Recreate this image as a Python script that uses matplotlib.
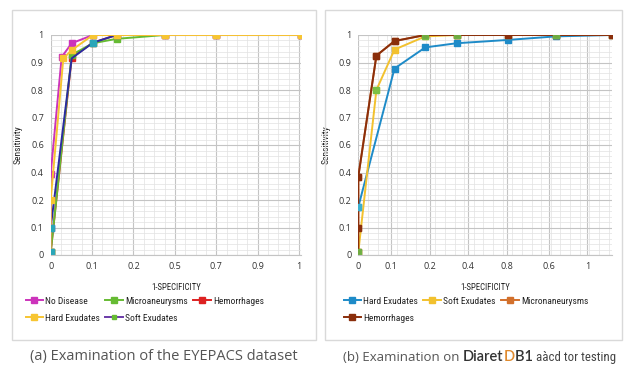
import numpy as np
import matplotlib
matplotlib.use('Agg')
import matplotlib.pyplot as plt
from matplotlib.ticker import FixedLocator, MultipleLocator
from matplotlib.patches import Rectangle

plt.rcParams['font.family'] = ['Open Sans', 'DejaVu Sans']
narrow = ['Roboto Condensed', 'DejaVu Sans']

# y axis labels as printed (evenly spaced in the picture)
y_labels = [0, 0.1, 0.2, 0.4, 0.6, 0.7, 0.8, 0.9, 1]
y_label_text = ['0', '0.1', '0.2', '0.4', '0.6', '0.7', '0.8', '0.9', '1']

# x axes are in tick-slot units, labels as printed
xa_ticks = [0, 1, 2, 3, 4, 5, 6]
xa_text = ['0', '0.1', '0.2', '0.5', '0.7', '0.9', '1']
xb_ticks = [0, 0.86, 1.85, 2.85, 3.85, 4.95, 5.95]
xb_text = ['0', '0.1', '0.2', '0.4', '0.8', '0.6', '1']

# (a) EYEPACS
hem_x = [0, 0.507, 1.02, 1.59, 2.75, 4.0, 6.04]
hem_y = [0.01, 0.918, 0.972, 1, 1, 1, 1]
micro_x = [0, 0.507, 1.02, 1.59, 2.75, 4.0, 6.04]
micro_y = [0.01, 0.928, 0.97, 0.986, 1, 1, 1]
soft_x = [0, 0, 0.507, 1.02, 1.59, 2.75, 4.0, 6.04]
soft_y = [0.01, 0.1, 0.915, 0.972, 1, 1, 1, 1]
nodis_x = [0, 0, 0.265, 0.507, 1.02, 1.59, 2.75, 4.0, 6.04]
nodis_y = [0.1, 0.39, 0.92, 0.97, 1, 1, 1, 1, 1]
hard_x = [0, 0, 0.305, 0.507, 1.02, 1.59, 2.75, 4.0, 6.04]
hard_y = [0.01, 0.2, 0.915, 0.945, 1, 1, 1, 1, 1]

# (b) DiaretDB1
b_hard_x = [0, 0.94, 1.74, 2.55, 3.88, 5.13, 6.58]
b_hard_y = [0.175, 0.878, 0.955, 0.97, 0.982, 0.995, 1.0]
b_soft_x = [0, 0.47, 0.94, 1.74, 2.55, 3.88, 5.13, 6.58]
b_soft_y = [0.01, 0.8, 0.947, 0.995, 1, 1, 1, 1]
b_green_x = [0, 0.47, 1.74, 2.55, 5.13]
b_green_y = [0.01, 0.8, 0.995, 1.0, 1.0]
b_micro_x = [0, 0, 0.47, 0.94, 1.74, 2.55, 3.88, 5.13, 6.58]
b_micro_y = [0.1, 0.37, 0.925, 0.978, 1, 1, 1, 1, 1]
b_hem_x = [0, 0, 0, 0.47, 0.94, 1.74, 2.55, 3.88, 5.13, 6.58]
b_hem_y = [0.01, 0.1, 0.37, 0.925, 0.978, 1, 1, 1, 1, 1]

yi = np.arange(len(y_labels))


def fwd(v):
    return np.interp(v, y_labels, yi)


def inv(p):
    return np.interp(p, yi, y_labels)


def setup(ax, xmax, ticks, text):
    ax.set_yscale('function', functions=(fwd, inv))
    ax.set_ylim(0, 1)
    ax.yaxis.set_major_locator(FixedLocator(y_labels))
    ax.yaxis.set_minor_locator(FixedLocator(inv(np.arange(0, 8.01, 0.2))))
    ax.set_yticklabels(y_label_text)
    ax.set_xlim(0, xmax)
    ax.set_xticks(ticks)
    ax.set_xticklabels(text)
    ax.xaxis.set_minor_locator(MultipleLocator(0.25))
    ax.grid(True, which='major', color='#c4c4c4', lw=0.8)
    ax.grid(True, which='minor', color='#e2e2e2', lw=0.5)
    ax.set_axisbelow(True)
    ax.tick_params(which='both', length=0, labelsize=6.5, colors='#333333', pad=5)
    for s in ax.spines.values():
        s.set_visible(False)
    ax.spines['bottom'].set_visible(True)
    ax.spines['bottom'].set_color('#c4c4c4')
    ax.set_xlabel('1-SPECIFICITY', fontsize=6.3, color='#222222', labelpad=9, family=narrow)
    ax.set_ylabel('Sensitivity', fontsize=6.8, color='#222222', labelpad=6, family=narrow)


fig = plt.figure(figsize=(6.32, 3.71), dpi=100)
for x0, x1 in [(12, 316), (325, 622)]:
    fig.patches.append(Rectangle((x0 / 632, 1 - 340 / 371), (x1 - x0) / 632, 330 / 371,
                                 transform=fig.transFigure, fill=False,
                                 edgecolor='#d9d9d9', lw=1))

ax1 = fig.add_axes([50.7 / 632, 1 - 255 / 371, 250 / 632, 220 / 371])
ax2 = fig.add_axes([358.3 / 632, 1 - 255 / 371, 253.4 / 632, 220 / 371])

kw = dict(marker='s', markersize=5, lw=1.4)
ax1.plot(hem_x, hem_y, color='#dd2222', label='Hemorrhages', **kw)
ax1.plot(micro_x, micro_y, color='#66bb33', label='Microaneurysms', **kw)
ax1.plot(soft_x, soft_y, color='#2b2ba0', label='Soft Exudates', marker='s', markersize=5,
         lw=1.4, markevery=[0, 1, 3], markerfacecolor='#2aa6b8', markeredgecolor='#2aa6b8')
ax1.plot(nodis_x, nodis_y, color='#cc33bb', label='No Disease', **kw)
ax1.plot(hard_x, hard_y, color='#f7c531', label='Hard Exudates', **kw)
ax1.plot(soft_x[:2], soft_y[:2], ls='none', marker='s', markersize=5, color='#2aa6b8')
setup(ax1, 6.04, xa_ticks, xa_text)

h, l = ax1.get_legend_handles_labels()
h_soft = ax1.plot([], [], color='#6a3aa8', lw=1.4, marker='s', markersize=2.5,
                  markerfacecolor='#66bb33', markeredgecolor='#66bb33')[0]
hmap = dict(zip(l, h))
hmap['Soft Exudates'] = h_soft
leg_kw = dict(loc='upper left', bbox_transform=fig.transFigure, ncol=3, frameon=False,
              handlelength=1.9, columnspacing=0.55, handletextpad=0.2, labelspacing=0.85,
              labelcolor='#222222', prop={'family': narrow, 'size': 6.8})
# column-major fill -> rows: No Disease, Microaneurysms, Hemorrhages / Hard Exudates, Soft Exudates
names_a = ['No Disease', 'Hard Exudates', 'Microaneurysms', 'Soft Exudates', 'Hemorrhages']
ax1.legend([hmap[n] for n in names_a], names_a, bbox_to_anchor=(17 / 632, 1 - 288 / 371), **leg_kw)

ax2.plot(b_micro_x, b_micro_y, color='#d2702c', label='Micronaneurysms', **kw)
ax2.plot(b_hard_x, b_hard_y, color='#1e8bc8', label='Hard Exudates', **kw)
ax2.plot(b_soft_x, b_soft_y, color='#f2c12e', label='Soft Exudates', **kw)
ax2.plot(b_hem_x, b_hem_y, color='#8a2e0b', label='Hemorrhages', **kw)
ax2.plot(b_green_x, b_green_y, ls='none', marker='s', markersize=5, color='#6cc04a', alpha=0.85)
ax2.plot(b_hard_x[:1], b_hard_y[:1], ls='none', marker='s', markersize=5, color='#3bb0d0')
setup(ax2, 6.58, xb_ticks, xb_text)
h, l = ax2.get_legend_handles_labels()
# column-major fill -> rows: Hard, Soft, Micro / Hemorrhages
names_b = ['Hard Exudates', 'Hemorrhages', 'Soft Exudates', 'Micronaneurysms']
ax2.legend([h[l.index(n)] for n in names_b], names_b, bbox_to_anchor=(335 / 632, 1 - 288 / 371), **leg_kw)

fig.text(164 / 632, 1 - 364 / 371, '(a) Examination of the EYEPACS dataset', ha='center', va='bottom',
         fontsize=10.5, color='#555555')
t1 = fig.text(343 / 632, 1 - 364 / 371, '(b) Examination on ', ha='left', va='bottom',
              fontsize=9.5, color='#555555')
t2 = ax2.annotate('Diaret', xy=(1, 0), xycoords=t1, ha='left', va='bottom', annotation_clip=False,
                  fontsize=10.5, color='#333333', family=['Lato', 'DejaVu Sans'], fontweight='semibold')
t3 = ax2.annotate('D', xy=(1, 0), xycoords=t2, ha='left', va='bottom', annotation_clip=False,
                  fontsize=10.5, color='#e08a2e', family=['Lato', 'DejaVu Sans'], fontweight='semibold')
t4 = ax2.annotate('B1 ', xy=(1, 0), xycoords=t3, ha='left', va='bottom', annotation_clip=False,
                  fontsize=10.5, color='#333333', family=['Lato', 'DejaVu Sans'], fontweight='semibold')
ax2.annotate('aàcd tor testing', xy=(1, 0), xycoords=t4, ha='left', va='bottom', annotation_clip=False,
             fontsize=9.3, color='#444444', family=narrow)

fig.savefig('out.png', dpi=100)
